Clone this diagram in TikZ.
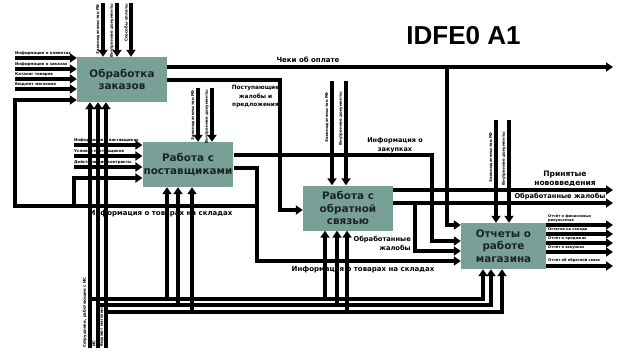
\documentclass[tikz,border=0pt]{standalone}
\usepackage{fontspec}
\setmainfont{DejaVu Sans}
\newfontfamily\titlefont{Liberation Sans}
\usetikzlibrary{arrows.meta}

\definecolor{funcfill}{RGB}{120,160,150}
\definecolor{functext}{RGB}{28,36,34}

\begin{document}
\begin{tikzpicture}[
    x=1pt, y=-1pt,
    >={Triangle[length=7pt,width=9pt]},
    func/.style={fill=funcfill, text=functext, minimum width=90pt, minimum height=45pt,
        align=center, inner sep=1pt, font=\fontsize{10.4}{12.5}\selectfont\bfseries},
    pipe/.style={line width=3.1pt},
    tiny/.style={font=\fontsize{3.9}{4.6}\selectfont\bfseries, inner sep=0pt},
    lbl/.style={font=\fontsize{#1}{8.5}\selectfont\bfseries, align=center, inner sep=0pt}
]
\useasboundingbox (0,0) rectangle (623,351);

% Function blocks
\node[func] (zakaz)  at (122,79.5)  {Обработка\\заказов};
\node[func] (postav) at (188,164.5) {Работа с\\поставщиками};
\node[func] (svyaz)  at (348,208)   {Работа с\\обратной\\связью};
\node[func, minimum width=85pt, minimum height=46pt] (otchet) at (503.5,246) {Отчеты о\\работе\\магазина};

% Title
\node[font=\titlefont\bfseries\fontsize{26}{26}\selectfont, inner sep=0pt] (title) at (463.5,36) {IDFE0 A1};

% Zakaz: controls
\coordinate (zc1) at (103,3);
\coordinate (zc2) at (117,3);
\coordinate (zc3) at (131,3);
\draw[pipe,->] (zc1) -- (zc1 |- zakaz.north);
\draw[pipe,->] (zc2) -- (zc2 |- zakaz.north);
\draw[pipe,->] (zc3) -- (zc3 |- zakaz.north);
\node[tiny, rotate=90, anchor=south east] (zct1) at (99.8,4) {Законодательство РФ};
\node[tiny, rotate=90, anchor=south east] (zct2) at (113.8,4) {Внутренние документы};
\node[tiny, rotate=90, anchor=south east] (zct3) at (127.8,4) {Способы оплаты};

% Zakaz: inputs
\coordinate (zi1) at (15,58);
\coordinate (zi2) at (15,69);
\coordinate (zi3) at (15,79);
\coordinate (zi4) at (15,89);
\draw[pipe,->] (zi1) -- (zi1 -| zakaz.west);
\draw[pipe,->] (zi2) -- (zi2 -| zakaz.west);
\draw[pipe,->] (zi3) -- (zi3 -| zakaz.west);
\draw[pipe,->] (zi4) -- (zi4 -| zakaz.west);
\node[tiny, anchor=south west] (zit1) at (15,55.1) {Информация о клиентах};
\node[tiny, anchor=south west] (zit2) at (15,66.1) {Информация о заказах};
\node[tiny, anchor=south west] (zit3) at (15,76.1) {Каталог товаров};
\node[tiny, anchor=south west] (zit4) at (15,86.1) {Бюджет магазина};

% Zakaz: outputs
\coordinate (cheki) at (613,67);
\coordinate (chekj) at (447,67);
\coordinate (cheko) at (447,225);
\draw[pipe,->] (zakaz.east |- cheki) -- (cheki);
\draw[pipe,->] (chekj) -- (cheko) -- (cheko -| otchet.west);
\node[lbl=7] (chekt) at (308,60) {Чеки об оплате};

\coordinate (zhalo) at (280,210);
\draw[pipe,->] (zakaz.east |- 0,80) -| (zhalo) -- (zhalo -| svyaz.west);
\node[lbl=5.8] (zhalt) at (255.5,96.5) {Поступающие\\жалобы и\\предложения};

% Postav: controls
\coordinate (pc1) at (198,88);
\coordinate (pc2) at (212,88);
\draw[pipe,->] (pc1) -- (pc1 |- postav.north);
\draw[pipe,->] (pc2) -- (pc2 |- postav.north);
\node[tiny, rotate=90, anchor=south east] (pct1) at (194.8,90) {Законодательство РФ};
\node[tiny, rotate=90, anchor=south east] (pct2) at (208.8,90) {Внутренние документы};

% Postav: inputs
\coordinate (pi1) at (74,145);
\coordinate (pi2) at (74,156);
\coordinate (pi3) at (74,167);
\draw[pipe,->] (pi1) -- (pi1 -| postav.west);
\draw[pipe,->] (pi2) -- (pi2 -| postav.west);
\draw[pipe,->] (pi3) -- (pi3 -| postav.west);
\node[tiny, anchor=south west] (pit1) at (74,142.1) {Информация о поставщиках};
\node[tiny, anchor=south west] (pit2) at (74,153.1) {Условия поставщиков};
\node[tiny, anchor=south west] (pit3) at (74,164.1) {Действующие контракты};

% Postav: outputs (stock info goes back as feedback)
\coordinate (skladj)  at (257,206);
\coordinate (sklado)  at (257,261);
\coordinate (skladz)  at (15,100);
\coordinate (skladpj) at (74,206);
\coordinate (skladp)  at (74,178);
\draw[pipe,->] (postav.east |- 0,168) -| (sklado) -- (sklado -| otchet.west);
\draw[pipe,->] (skladj) -| (skladz) -- (skladz -| zakaz.west);
\draw[pipe,->] (skladpj) -- (skladp) -- (skladp -| postav.west);
\node[lbl=7] (skladt1) at (161,214) {Информация о товарах на складах};
\node[lbl=7] (skladt2) at (363,270) {Информация о товарах на складах};

\coordinate (zakupo) at (432,241);
\draw[pipe,->] (postav.east |- 0,155) -| (zakupo) -- (zakupo -| otchet.west);
\node[lbl=6.5] (zakupt) at (395,145) {Информация о\\закупках};

% Svyaz: controls
\coordinate (sc1) at (332,81);
\coordinate (sc2) at (346,81);
\draw[pipe,->] (sc1) -- (sc1 |- svyaz.north);
\draw[pipe,->] (sc2) -- (sc2 |- svyaz.north);
\node[tiny, rotate=90, anchor=south east] (sct1) at (328.8,92) {Законодательство РФ};
\node[tiny, rotate=90, anchor=south east] (sct2) at (342.8,92) {Внутренние документы};

% Svyaz: outputs
\coordinate (novo)  at (613,190);
\coordinate (obzh)  at (613,203);
\coordinate (obzhj) at (415,203);
\coordinate (obzho) at (415,251);
\draw[pipe,->] (svyaz.east |- novo) -- (novo);
\draw[pipe,->] (svyaz.east |- obzh) -- (obzh);
\draw[pipe,->] (obzhj) -- (obzho) -- (obzho -| otchet.west);
\node[lbl=7.5] (novot) at (565,179) {Принятые\\нововведения};
\node[lbl=6.7] (obzht) at (560,196.8) {Обработанные жалобы};
\node[lbl=6.7, align=right, anchor=east] (obzht2) at (411,243.5) {Обработанные\\жалобы};

% Otchet: controls
\coordinate (oc1) at (496,120);
\coordinate (oc2) at (509,120);
\draw[pipe,->] (oc1) -- (oc1 |- otchet.north);
\draw[pipe,->] (oc2) -- (oc2 |- otchet.north);
\node[tiny, rotate=90, anchor=south east] (oct1) at (492.8,132) {Законодательство РФ};
\node[tiny, rotate=90, anchor=south east] (oct2) at (505.8,132) {Внутренние документы};

% Otchet: outputs
\coordinate (oo1) at (613,225);
\coordinate (oo2) at (613,234);
\coordinate (oo3) at (613,243);
\coordinate (oo4) at (613,252);
\coordinate (oo5) at (613,266);
\draw[pipe,->] (otchet.east |- oo1) -- (oo1);
\draw[pipe,->] (otchet.east |- oo2) -- (oo2);
\draw[pipe,->] (otchet.east |- oo3) -- (oo3);
\draw[pipe,->] (otchet.east |- oo4) -- (oo4);
\draw[pipe,->] (otchet.east |- oo5) -- (oo5);
\node[tiny, font=\fontsize{3.6}{4.2}\selectfont\bfseries, align=left, anchor=south west] (oot1) at (548,222.4) {Отчёт о финансовых\\результатах};
\node[tiny, font=\fontsize{3.6}{4.2}\selectfont\bfseries, anchor=south west] (oot2) at (548,231.4) {Остатки на складе};
\node[tiny, font=\fontsize{3.6}{4.2}\selectfont\bfseries, anchor=south west] (oot3) at (548,240.4) {Отчёт о продажах};
\node[tiny, font=\fontsize{3.6}{4.2}\selectfont\bfseries, anchor=south west] (oot4) at (548,249.4) {Отчёт о закупках};
\node[tiny, font=\fontsize{3.6}{4.2}\selectfont\bfseries, anchor=south west] (oot5) at (548,262) {Отчёт об обратной связи};

% Mechanisms
\coordinate (m1) at (90,348);
\coordinate (m2) at (98,348);
\coordinate (m3) at (106,348);
\draw[pipe,->] (m1) -- (m1 |- zakaz.south);
\draw[pipe,->] (m2) -- (m2 |- zakaz.south);
\draw[pipe,->] (m3) -- (m3 |- zakaz.south);
\node[tiny, rotate=90, anchor=south west] (mt1) at (86.8,348) {Сотрудники, работающие с ИС};
\node[tiny, rotate=90, anchor=south west] (mt2) at (95.6,347) {ИС};
\node[tiny, rotate=90, anchor=south west] (mt3) at (103.6,347) {Бюджет магазина};

\coordinate (mh1) at (90,299);
\coordinate (mh2) at (98,305);
\coordinate (mh3) at (106,312);
\coordinate (mo1) at (483,299);
\coordinate (mo2) at (491,305);
\coordinate (mo3) at (502,312);
\draw[pipe,->] (mh1) -- (mo1) -- (mo1 |- otchet.south);
\draw[pipe,->] (mh2) -- (mo2) -- (mo2 |- otchet.south);
\draw[pipe,->] (mh3) -- (mo3) -- (mo3 |- otchet.south);

\coordinate (pm1) at (167,299);
\coordinate (pm2) at (178,305);
\coordinate (pm3) at (192,312);
\draw[pipe,->] (pm1) -- (pm1 |- postav.south);
\draw[pipe,->] (pm2) -- (pm2 |- postav.south);
\draw[pipe,->] (pm3) -- (pm3 |- postav.south);

\coordinate (sm1) at (325,299);
\coordinate (sm2) at (337,305);
\coordinate (sm3) at (347,312);
\draw[pipe,->] (sm1) -- (sm1 |- svyaz.south);
\draw[pipe,->] (sm2) -- (sm2 |- svyaz.south);
\draw[pipe,->] (sm3) -- (sm3 |- svyaz.south);

\end{tikzpicture}
\end{document}
